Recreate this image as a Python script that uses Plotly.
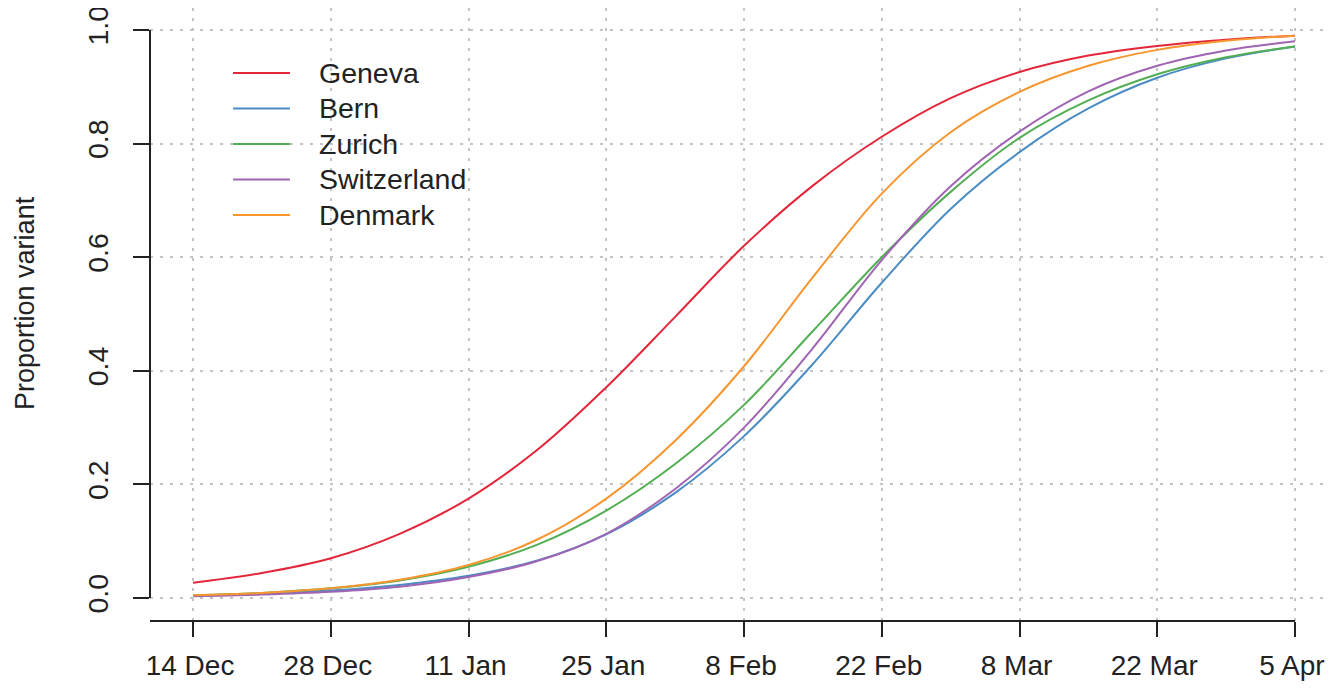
import plotly.graph_objects as go

# ---- data ----
dates = ["2020-12-14", "2020-12-21", "2020-12-28", "2021-01-04", "2021-01-11",
         "2021-01-18", "2021-01-25", "2021-02-01", "2021-02-08", "2021-02-15",
         "2021-02-22", "2021-03-01", "2021-03-08", "2021-03-15", "2021-03-22",
         "2021-03-29", "2021-04-05"]

geneva = [0.027, 0.044, 0.070, 0.113, 0.175, 0.261, 0.371, 0.495, 0.620, 0.726,
          0.812, 0.880, 0.926, 0.955, 0.972, 0.983, 0.990]
bern = [0.004, 0.008, 0.013, 0.023, 0.039, 0.066, 0.112, 0.185, 0.285, 0.412,
        0.555, 0.685, 0.785, 0.862, 0.916, 0.950, 0.971]
zurich = [0.005, 0.009, 0.017, 0.031, 0.055, 0.094, 0.154, 0.236, 0.340, 0.470,
          0.600, 0.715, 0.810, 0.876, 0.922, 0.952, 0.971]
switzerland = [0.003, 0.006, 0.011, 0.020, 0.037, 0.065, 0.113, 0.192, 0.300, 0.440,
               0.595, 0.725, 0.821, 0.892, 0.937, 0.964, 0.980]
denmark = [0.005, 0.009, 0.017, 0.032, 0.058, 0.103, 0.175, 0.277, 0.408, 0.565,
           0.712, 0.820, 0.891, 0.937, 0.965, 0.981, 0.990]

series_names = ["Geneva", "Bern", "Zurich", "Switzerland", "Denmark"]
series_values = [geneva, bern, zurich, switzerland, denmark]
series_colors = ["#E3263A", "#4A8CC4", "#52AE52", "#A064B4", "#F7962F"]

tick_dates = ["2020-12-14", "2020-12-28", "2021-01-11", "2021-01-25", "2021-02-08",
              "2021-02-22", "2021-03-08", "2021-03-22", "2021-04-05"]
tick_labels = ["14 Dec", "28 Dec", "11 Jan", "25 Jan", "8 Feb",
               "22 Feb", "8 Mar", "22 Mar", "5 Apr"]
y_ticks = [0.0, 0.2, 0.4, 0.6, 0.8, 1.0]
y_labels = ["0.0", "0.2", "0.4", "0.6", "0.8", "1.0"]

x_range = ["2020-12-09 15:00", "2021-04-08 03:40"]
y_range = [-0.0405, 1.0387]

FONT = "Liberation Sans, Arial, sans-serif"
INK = "#222222"
FS = 28.5

fig = go.Figure()
for name, vals, col in zip(series_names, series_values, series_colors):
    fig.add_trace(go.Scatter(x=dates, y=vals, mode="lines", name=name,
                             line=dict(color=col, width=2, shape="spline", smoothing=1.0),
                             showlegend=False))

# manual legend (long line samples like R's legend)
leg_y0 = 0.894
leg_dy = 0.0579
shapes = []
annotations = []
for i, (name, col) in enumerate(zip(series_names, series_colors)):
    yy = leg_y0 - i * leg_dy
    shapes.append(dict(type="line", xref="paper", yref="paper",
                       x0=0.0706, x1=0.1190, y0=yy, y1=yy,
                       line=dict(color=col, width=2)))
    annotations.append(dict(text=name, xref="paper", yref="paper", x=0.1420, y=yy,
                            xanchor="left", yanchor="middle", showarrow=False,
                            font=dict(family=FONT, size=FS, color=INK)))

# axis lines drawn like R (spanning only the tick range)
shapes.append(dict(type="line", xref="paper", yref="y", x0=0, x1=0, y0=0, y1=1,
                   line=dict(color=INK, width=2)))
shapes.append(dict(type="line", xref="x", yref="paper", x0=x_range[0], x1=tick_dates[-1],
                   y0=0, y1=0, line=dict(color=INK, width=2)))

annotations.append(dict(text="Proportion variant", xref="paper", yref="paper",
                        x=-0.1063, y=0.5188, textangle=-90, showarrow=False,
                        xanchor="center", yanchor="middle",
                        font=dict(family=FONT, size=27, color=INK)))

fig.update_layout(
    width=1318, height=676,
    margin=dict(l=142, r=0, t=0, b=63, autoexpand=False),
    paper_bgcolor="white", plot_bgcolor="white",
    showlegend=False,
    shapes=shapes, annotations=annotations,
    font=dict(family=FONT, size=FS, color=INK),
)
fig.update_xaxes(type="date", range=x_range, tickmode="array", tickvals=tick_dates,
                 ticktext=tick_labels, ticks="outside", ticklen=15, tickwidth=2,
                 tickcolor=INK, showline=False, zeroline=False, automargin=False,
                 showgrid=True, gridcolor="#c4c4c4", gridwidth=1.5, griddash="3px,7px",
                 tickfont=dict(family=FONT, size=28, color=INK), ticklabelstandoff=4,
                 ticklabelshift=-3, ticklabeloverflow="allow")
fig.update_yaxes(range=y_range, tickmode="array", tickvals=y_ticks, ticktext=y_labels,
                 ticks="outside", ticklen=16, tickwidth=2, tickcolor=INK,
                 showline=False, zeroline=False, tickangle=-90, automargin=False,
                 showgrid=True, gridcolor="#c4c4c4", gridwidth=1.5, griddash="3px,7px",
                 tickfont=dict(family=FONT, size=FS, color=INK), ticklabelstandoff=14,
                 ticklabeloverflow="allow")

fig.write_html("out.html")
